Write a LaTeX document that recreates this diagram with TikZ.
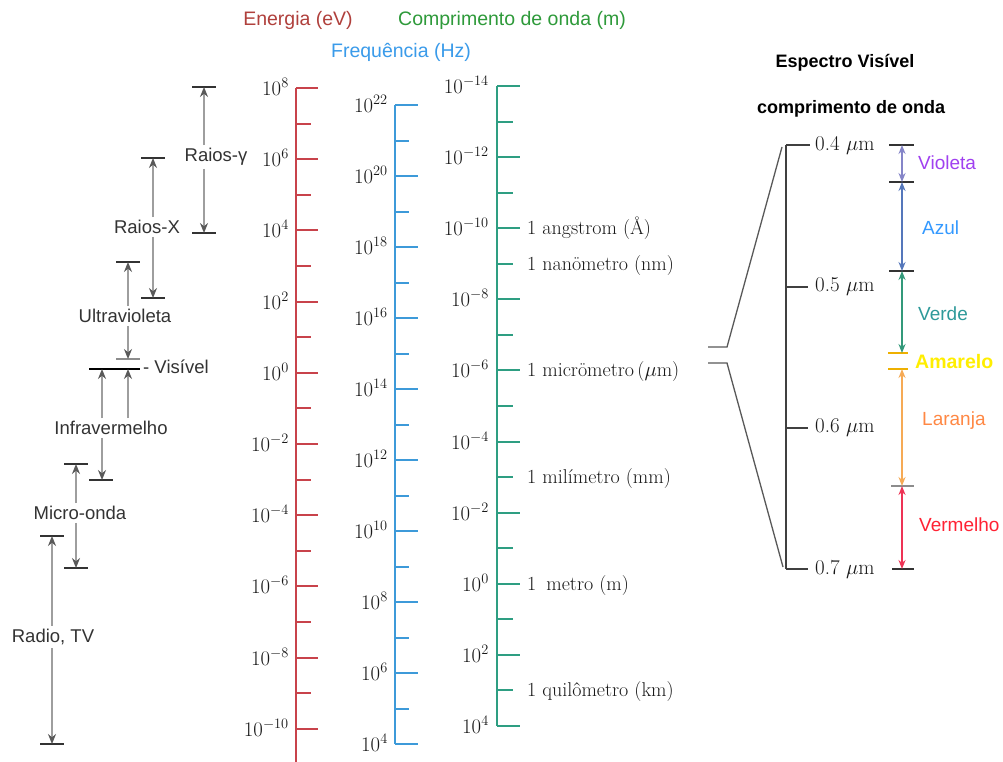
\documentclass[tikz,border=0pt]{standalone}
\usepackage{fontspec}
\newfontfamily\labsans{Liberation Sans}
\usetikzlibrary{arrows.meta}

\definecolor{eRed}{HTML}{C8434B}
\definecolor{fBlue}{HTML}{3D9AD9}
\definecolor{wGreen}{HTML}{2E9E82}
\definecolor{tRed}{HTML}{B0403C}
\definecolor{tBlue}{HTML}{3A9BEA}
\definecolor{tGreen}{HTML}{2E9A3A}
\definecolor{cViolet}{HTML}{A040F0}
\definecolor{aViolet}{HTML}{8585C8}
\definecolor{cBlue}{HTML}{3399FF}
\definecolor{aBlue}{HTML}{5577BB}
\definecolor{cTeal}{HTML}{2E9A9A}
\definecolor{aGreen}{HTML}{33997A}
\definecolor{cYellow}{HTML}{FFEE00}
\definecolor{bYellow}{HTML}{EEB000}
\definecolor{cOrange}{HTML}{FF8844}
\definecolor{aOrange}{HTML}{F6AA55}
\definecolor{cRed}{HTML}{FF2233}
\definecolor{aRed}{HTML}{EE3355}

\begin{document}
\begin{tikzpicture}[x=1pt,y=-1pt,
  title/.style={font=\labsans\fontsize{19.5}{22}\selectfont, inner sep=0pt},
  head/.style={font=\labsans\bfseries\fontsize{18}{20}\selectfont, inner sep=0pt},
  band/.style={font=\labsans\fontsize{18.5}{21}\selectfont, text=black!80, inner sep=3pt},
  num/.style={font=\fontsize{22.5}{26}\selectfont, inner sep=0pt, anchor=base east, text=black!90},
  unit/.style={font=\fontsize{20}{23}\selectfont, inner sep=0pt, anchor=base west, text=black!90},
  mlab/.style={font=\fontsize{21}{24}\selectfont, inner sep=0pt, anchor=west, text=black!90},
  colab/.style={font=\labsans\fontsize{19}{21}\selectfont, inner sep=0pt, anchor=west},
  scaleline/.style={line width=2pt},
  arr/.style={draw=black!38, line width=1.5pt,
    -{Stealth[length=10pt,width=8pt,color=black!65]}},
  hbar/.style={draw=black!80, line width=1.6pt},
  lbar/.style={draw=black!45, line width=1.6pt},
  dbl/.style={line width=1.5pt,
    {Stealth[length=9pt,width=7pt]}-{Stealth[length=9pt,width=7pt]}},
  zoomline/.style={draw=black!65, line width=1.3pt}]

\useasboundingbox (0,0) rectangle (1003,762);
\fill[white] (0,0) rectangle (1003,762);

% ---- scale titles ----
\node[title, text=tRed]   (tEn) at (298,20) {Energia (eV)};
\node[title, text=tGreen] (tWl) at (512,20) {Comprimento de onda (m)};
\node[title, text=tBlue]  (tFr) at (401,52) {Frequência (Hz)};

% ---- energy scale (eV) ----
\draw[scaleline, eRed] (296,88) -- (296,762);
\foreach \k in {0,...,9}{
  \pgfmathtruncatemacro\yy{round(88+71.2*\k)}
  \pgfmathtruncatemacro\ex{8-2*\k}
  \draw[scaleline, eRed] (296,\yy) -- ++(22,0);
  \node[num] (e\k) at (289,\yy+7.5) {$10^{\ex}$};
}
\foreach \k in {0,...,8}{
  \pgfmathtruncatemacro\yy{round(88+35.6+71.2*\k)}
  \draw[scaleline, eRed] (296,\yy) -- ++(15,0);
}

% ---- frequency scale (Hz) ----
\draw[scaleline, fBlue] (395,105) -- (395,744);
\foreach \k in {0,...,9}{
  \pgfmathtruncatemacro\yy{round(105+71*\k)}
  \pgfmathtruncatemacro\ex{22-2*\k}
  \draw[scaleline, fBlue] (395,\yy) -- ++(23,0);
  \node[num] (f\k) at (388,\yy+7.5) {$10^{\ex}$};
}
\foreach \k in {0,...,8}{
  \pgfmathtruncatemacro\yy{round(105+35.5+71*\k)}
  \draw[scaleline, fBlue] (395,\yy) -- ++(14,0);
}

% ---- wavelength scale (m) ----
\draw[scaleline, wGreen] (497,86) -- (497,726);
\foreach \k in {0,...,9}{
  \pgfmathtruncatemacro\yy{round(86+71.1*\k)}
  \pgfmathtruncatemacro\ex{-14+2*\k}
  \draw[scaleline, wGreen] (497,\yy) -- ++(23,0);
  \node[num] (w\k) at (489,\yy+7.5) {$10^{\ex}$};
}
\foreach \k in {0,...,8}{
  \pgfmathtruncatemacro\yy{round(86+35.55+71.1*\k)}
  \draw[scaleline, wGreen] (497,\yy) -- ++(16,0);
}

% ---- named lengths on the wavelength scale ----
\node[unit] (uA)  at (527,228+6.5) {1 angstrom (Å)};
\node[unit] (unm) at (527,264+6.5) {1 nanömetro (nm)};
\node[unit] (uum) at (527,370+6.5) {1 micrömetro\,($\mu$m)};
\node[unit] (umm) at (527,477+6.5) {1 milímetro (mm)};
\node[unit] (um)  at (527,584+6.5) {1\hspace{4pt} metro (m)};
\node[unit] (ukm) at (527,690+6.5) {1 quilômetro (km)};

% ---- radiation bands ----
% gamma rays
\node[band] (gam) at (216,157) {Raios-γ};
\coordinate (gT) at (204,87);
\coordinate (gB) at (204,233);
\draw[hbar] (gT) ++(-12,0) -- ++(24,0);
\draw[hbar] (gB) ++(-12,0) -- ++(24,0);
\draw[arr] (gT |- gam.north) -- (gT);
\draw[arr] (gT |- gam.south) -- (gB);

% x rays
\node[band] (xr) at (147,227) {Raios-X};
\coordinate (xT) at (153,158);
\coordinate (xB) at (153,298);
\draw[hbar] (xT) ++(-12,0) -- ++(24,0);
\draw[hbar] (xB) ++(-12,0) -- ++(24,0);
\draw[arr] (xT |- xr.north) -- (xT);
\draw[arr] (xT |- xr.south) -- (xB);

% ultraviolet
\node[band] (uv) at (125,316) {Ultravioleta};
\coordinate (uT) at (128,262);
\coordinate (uB) at (128,359);
\draw[hbar] (uT) ++(-12,0) -- ++(24,0);
\draw[lbar] (uB) ++(-12,0) -- ++(24,0);
\draw[arr] (uT |- uv.north) -- (uT);
\draw[arr] (uT |- uv.south) -- (uB);

% visible
\coordinate (vL) at (89,369);
\coordinate (vR) at (140,369);
\draw[draw=black, line width=1.8pt] (vL) -- (vR);
\node[band, anchor=west, inner sep=0pt] (vis) at (143,367) {- Visível};

% infrared
\node[band] (ir) at (111,428) {Infravermelho};
\coordinate (iA) at (102,369);
\coordinate (iC) at (128,369);
\coordinate (iB) at (102,480);
\draw[hbar] (iB) ++(-13,0) -- ++(24,0);
\draw[arr] (iA |- ir.north) -- (iA);
\draw[arr] (iC |- ir.north) -- (iC);
\draw[arr] (iA |- ir.south) -- (iB);

% microwaves
\node[band] (mw) at (80,513) {Micro-onda};
\coordinate (mT) at (76,464);
\coordinate (mB) at (76,568);
\draw[hbar] (mT) ++(-12,0) -- ++(24,0);
\draw[hbar] (mB) ++(-12,0) -- ++(24,0);
\draw[arr] (mT |- mw.north) -- (mT);
\draw[arr] (mT |- mw.south) -- (mB);

% radio and TV
\node[band] (rd) at (53,637) {Radio, TV};
\coordinate (rT) at (52,536);
\coordinate (rB) at (52,744);
\draw[hbar] (rT) ++(-12,0) -- ++(24,0);
\draw[hbar] (rB) ++(-12,0) -- ++(24,0);
\draw[arr] (rT |- rd.north) -- (rT);
\draw[arr] (rT |- rd.south) -- (rB);

% ---- visible spectrum detail ----
\node[head] (hv1) at (845,63) {Espectro Visível};
\node[head] (hv2) at (851,109) {comprimento de onda};

\coordinate (sTop) at (786,145);
\coordinate (sBot) at (786,569);
\draw[draw=black!75, line width=1.6pt] (sTop) -- (sBot);
\draw[draw=black!75, line width=1.6pt] (sTop) -- ++(24,0);
\draw[draw=black!75, line width=1.6pt] (786,287) -- ++(22,0);
\draw[draw=black!75, line width=1.6pt] (786,428) -- ++(22,0);
\draw[draw=black!75, line width=1.6pt] (sBot) -- ++(22,0);
\foreach \y/\lab/\nm in {145/0.4/s4, 287/0.5/s5, 428/0.6/s6, 569/0.7/s7}{
  \node[mlab] (\nm) at (815,\y) {\lab\ $\mu$m};
}

% zoom bracket from the main scale
\coordinate (zA) at (708,347);
\coordinate (zB) at (727,347);
\coordinate (zC) at (782,147);
\coordinate (zD) at (708,363);
\coordinate (zE) at (727,363);
\coordinate (zF) at (783,567);
\draw[zoomline] (zA) -- (zB) -- (zC);
\draw[zoomline] (zD) -- (zE) -- (zF);

% colour bands
\coordinate (b0) at (902,145);
\coordinate (b1) at (902,182);
\coordinate (b2) at (902,271);
\coordinate (b3) at (898,353);
\coordinate (b4) at (898,369);
\coordinate (b5) at (902,486);
\coordinate (b6) at (902,569);
\draw[hbar] (b0) ++(-13,0) -- ++(25,0);
\draw[hbar] (b1) ++(-13,0) -- ++(25,0);
\draw[hbar] (b2) ++(-13,0) -- ++(25,0);
\draw[draw=bYellow, line width=1.8pt] (b3) ++(-10,0) -- ++(20,0);
\draw[draw=bYellow, line width=1.8pt] (b4) ++(-10,0) -- ++(20,0);
\draw[lbar] (b5) ++(-11,0) -- ++(23,0);
\draw[hbar] (b6) ++(-10,0) -- ++(22,0);

\draw[dbl, aViolet] (b0) -- (b1);
\draw[dbl, aBlue]   (b1) -- (b2);
\draw[dbl, aGreen]  (b2) -- (b2 |- b3);
\draw[dbl, aOrange] (b5 |- b4) -- (b5);
\draw[dbl, aRed]    (b5) -- (b6);

\node[colab, text=cViolet] (cv) at (918,163) {Violeta};
\node[colab, text=cBlue]   (cb) at (922,228) {Azul};
\node[colab, text=cTeal]   (cg) at (918,314) {Verde};
\node[colab, text=cYellow, font=\labsans\bfseries\fontsize{19.5}{21}\selectfont] (cy) at (915,362) {Amarelo};
\node[colab, text=cOrange] (co) at (922,421) {Laranja};
\node[colab, text=cRed]    (cr) at (919,525) {Vermelho};

\end{tikzpicture}
\end{document}
